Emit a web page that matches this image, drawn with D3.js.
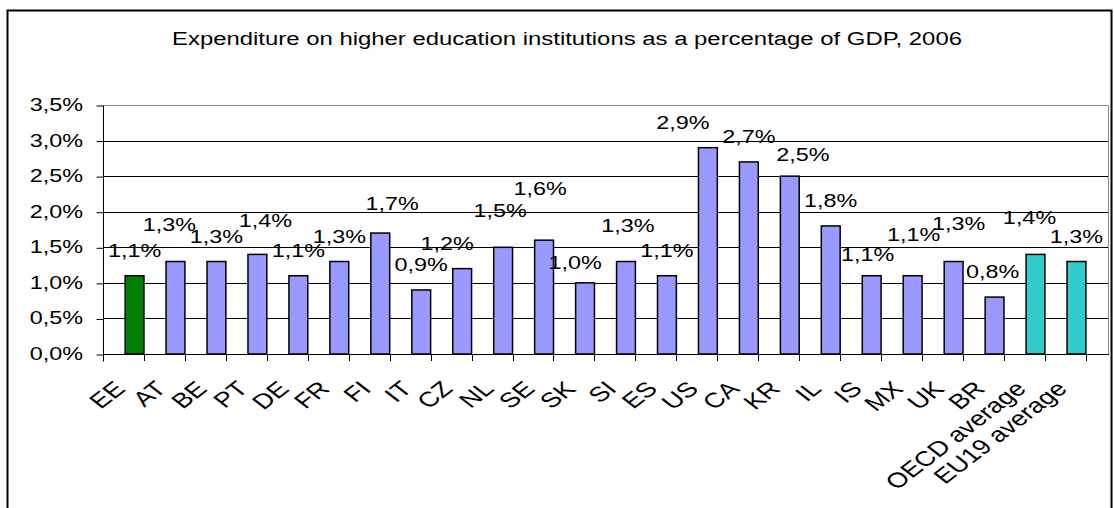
<!DOCTYPE html>
<html>
<head>
<meta charset="utf-8">
<script src="https://cdn.jsdelivr.net/npm/d3@7"></script>
<style>
  body { margin: 0; background: #fff; }
  text { font-family: "Liberation Sans", Arial, sans-serif; }
</style>
</head>
<body>
<svg id="chart" width="1114" height="508"></svg>
<script>
const title = "Expenditure on higher education institutions as a percentage of GDP, 2006"
const categories = ["EE", "AT", "BE", "PT", "DE", "FR", "FI", "IT", "CZ", "NL", "SE", "SK",
  "SI", "ES", "US", "CA", "KR", "IL", "IS", "MX", "UK", "BR", "OECD average", "EU19 average"]
const values = [1.1, 1.3, 1.3, 1.4, 1.1, 1.3, 1.7, 0.9, 1.2, 1.5, 1.6, 1.0,
  1.3, 1.1, 2.9, 2.7, 2.5, 1.8, 1.1, 1.1, 1.3, 0.8, 1.4, 1.3]
const yTicks = [0, 0.5, 1, 1.5, 2, 2.5, 3, 3.5]

// the source labels were dragged around by hand, these are pixel nudges [dx, dy]
const labelNudge = {
  "AT": [-6, -12], "PT": [8, -8], "FI": [12, -4], "CZ": [-15, 0], "NL": [-3, -11],
  "SE": [-4, -26], "SK": [-10, 5], "SI": [2, -11], "US": [-25, 0], "KR": [13, 4],
  "IS": [-4, 4], "MX": [1, -16], "UK": [5, -13], "BR": [-2, 0], "OECD average": [-6, -11]
}

const W = 1114, H = 508
const plot = { left: 103, right: 1108, top: 105, bottom: 354 }
const stretch = 1.3   // the whole picture is drawn wide, text too
const fontSize = 18

function barColor(cat) {
  if (cat === "EE") return "#008000"
  if (cat.indexOf("average") >= 0) return "#33cccc"
  return "#9999ff"
}
const fmt = v => d3.format(".1f")(v).replace(".", ",") + "%"

const svg = d3.select("#chart")
svg.append("rect").attr("width", W).attr("height", H).attr("fill", "#fff")

// outer chart frame
svg.append("rect")
  .attr("x", 7.5).attr("y", 10.5).attr("width", 1104).attr("height", 520)
  .attr("fill", "none").attr("stroke", "#000").attr("stroke-width", 2)

svg.append("text")
  .attr("x", 172).attr("y", 45)
  .attr("font-size", fontSize)
  .attr("textLength", 790).attr("lengthAdjust", "spacingAndGlyphs")
  .text(title)

const x = d3.scaleBand().domain(categories).range([plot.left, plot.right]).padding(0.54)
const y = d3.scaleLinear().domain([0, 3.5]).range([plot.bottom, plot.top])

// gridlines
svg.append("g").selectAll("line").data(yTicks.slice(1)).enter().append("line")
  .attr("x1", plot.left).attr("x2", plot.right)
  .attr("y1", d => Math.round(y(d)) + 0.5).attr("y2", d => Math.round(y(d)) + 0.5)
  .attr("stroke", "#000")

// plot border top / right
svg.append("path")
  .attr("d", `M${plot.left},${plot.top + 0.5}H${plot.right + 0.5}V${plot.bottom}`)
  .attr("fill", "none").attr("stroke", "#888")

// y axis
const yAxis = d3.axisLeft(y).tickValues(yTicks).tickSize(7).tickFormat("")
const yg = svg.append("g").attr("transform", `translate(${plot.left + 0.5},0.5)`).call(yAxis)
yg.select(".domain").attr("d", `M0,${plot.top}V${plot.bottom + 7}`)
yg.selectAll("line").attr("stroke", "#000")

svg.append("g").selectAll("text").data(yTicks).enter().append("text")
  .attr("transform", d => `translate(83,${y(d) + 6}) scale(${stretch},1)`)
  .attr("text-anchor", "end")
  .attr("font-size", fontSize)
  .text(fmt)

// x axis, ticks sit on the band edges like in Excel
const xg = svg.append("g")
xg.append("line")
  .attr("x1", plot.left).attr("x2", plot.right + 1)
  .attr("y1", plot.bottom + 0.5).attr("y2", plot.bottom + 0.5)
  .attr("stroke", "#000")
xg.selectAll(".tick").data(categories.concat(["end"])).enter().append("line")
  .attr("x1", (d, i) => Math.round(plot.left + i * x.step()) + 0.5)
  .attr("x2", (d, i) => Math.round(plot.left + i * x.step()) + 0.5)
  .attr("y1", plot.bottom).attr("y2", plot.bottom + 7)
  .attr("stroke", "#000")

svg.append("g").selectAll("text").data(categories).enter().append("text")
  .attr("transform", d => `translate(${x(d) + x.bandwidth() / 2 - 8},390) scale(${stretch},1) rotate(-45)`)
  .attr("text-anchor", "end")
  .attr("font-size", 21)
  .text(d => d)

// bars
svg.append("g").selectAll(".bar").data(categories).enter().append("rect")
  .attr("class", "bar")
  .attr("x", d => x(d))
  .attr("y", (d, i) => y(values[i]))
  .attr("width", x.bandwidth())
  .attr("height", (d, i) => plot.bottom - y(values[i]))
  .attr("fill", d => barColor(d))
  .attr("stroke", "#000")
  .attr("stroke-width", 1.5)

// value labels
svg.append("g").selectAll("text").data(categories).enter().append("text")
  .attr("transform", (d, i) => {
    const n = labelNudge[d] || [0, 0]
    const cx = x(d) + x.bandwidth() / 2 + n[0]
    const cy = y(values[i]) - 19 + n[1]
    return `translate(${cx},${cy}) scale(${stretch},1)`
  })
  .attr("text-anchor", "middle")
  .attr("font-size", fontSize)
  .text((d, i) => fmt(values[i]))
</script>
</body>
</html>
